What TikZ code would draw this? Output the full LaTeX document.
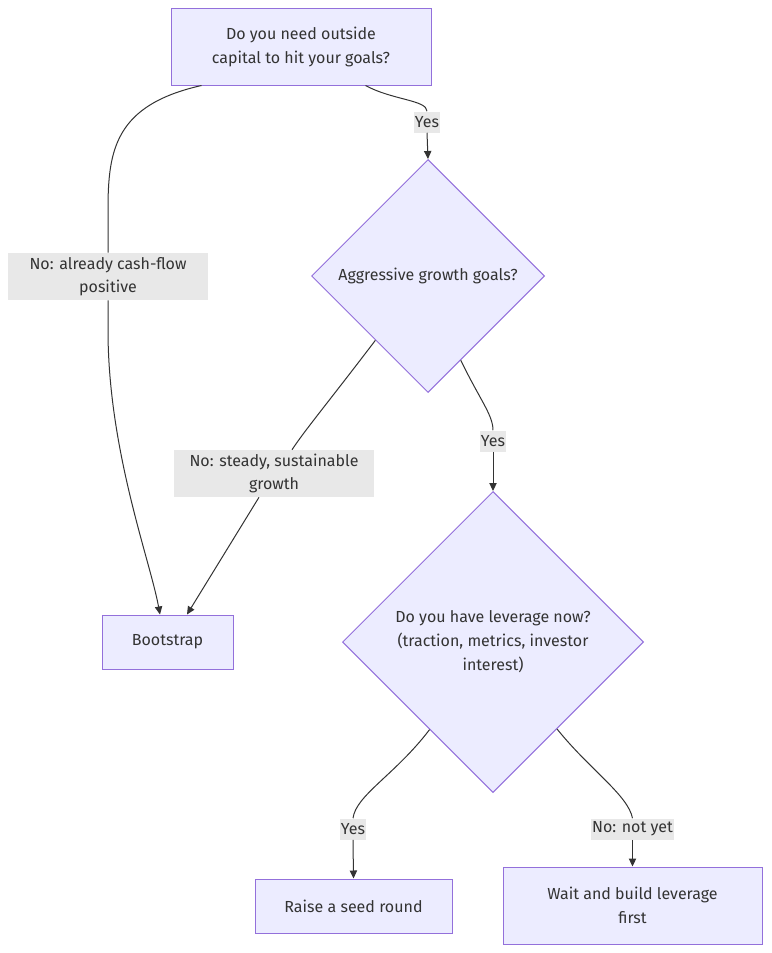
\documentclass[tikz,border=0pt]{standalone}
\usepackage{fontspec}
\setmainfont{Fira Sans}
\usetikzlibrary{arrows.meta,positioning,calc,shapes.geometric}
\definecolor{nodefill}{HTML}{ECECFF}
\definecolor{nodeline}{HTML}{9370DB}
\definecolor{lblfill}{HTML}{E8E8E8}
\definecolor{ink}{HTML}{333333}

\begin{document}
\begin{tikzpicture}[x=0.75pt, y=-0.75pt,
  box/.style={draw=nodeline, fill=nodefill, line width=0.75pt, align=center, text=ink, font=\fontsize{12}{18}\selectfont, inner sep=0pt},
  decision/.style={box, diamond, aspect=1},
  lbl/.style={fill=lblfill, text=ink, align=center, font=\fontsize{12}{17.5}\selectfont, inner xsep=1pt, inner ysep=0pt, minimum height=15.75pt},
  arr/.style={-{Triangle[length=6pt,width=5.5pt]}, ink, line width=0.75pt},
  link/.style={ink, line width=0.75pt}
]
  \useasboundingbox (0,0) rectangle (771,953);

  % questions and outcomes
  \node[box, minimum width=195pt, minimum height=57.75pt] (capital) at (301,46.5) {Do you need outside\\capital to hit your goals?};
  \node[decision, minimum width=174.75pt, minimum height=174.75pt] (growth) at (428,276) {Aggressive growth goals?};
  \node[decision, minimum width=225.75pt, minimum height=225.75pt] (leverage) at (493,642) {Do you have leverage now?\\(traction, metrics, investor\\interest)};
  \node[box, minimum width=98.25pt, minimum height=40.5pt] (boot) at (167.5,642) {Bootstrap};
  \node[box, minimum width=147.75pt, minimum height=40.5pt] (seed) at (353.5,906) {Raise a seed round};
  \node[box, minimum width=194.25pt, minimum height=57.75pt] (wait) at (632.5,905.5) {Wait and build leverage\\first};

  % edge labels
  \node[lbl, minimum width=150pt, minimum height=35.25pt] (cashflow) at (108,276.5) {No: already cash-flow\\positive};
  \node[lbl] (yescap) at (427,122) {Yes};
  \node[lbl, minimum width=150pt, minimum height=35.25pt] (steady) at (274,473.5) {No: steady, sustainable\\growth};
  \node[lbl] (yesgrow) at (493,441) {Yes};
  \node[lbl] (yeslev) at (353,829) {Yes};
  \node[lbl] (notyet) at (632.5,829) {No: not yet};

  % connectors
  \draw[link] ($(capital.south west)+(31,0)$) .. controls (115,105) and (108,150) .. (108,210) -- (cashflow.north);
  \draw[arr] (cashflow.south) -- (108,330) .. controls (108,450) and (150,560) .. ($(boot.north)+(-7.5,0)$);

  \draw[link] ($(capital.south east)+(-66,0)$) .. controls (392,100) and (427,100) .. (yescap.north);
  \draw[arr] (yescap.south) -- (growth.north);

  \draw[link] ($(growth.west)!0.55!(growth.south)$) .. controls (330,400) and (305,430) .. ($(steady.north)+(18,0)$);
  \draw[arr] ($(steady.south)+(-15,0)$) -- ($(boot.north)+(19.5,0)$);

  \draw[link] ($(growth.east)!0.72!(growth.south)$) .. controls (480,400) and (493,415) .. (yesgrow.north);
  \draw[arr] (yesgrow.south) -- (leverage.north);

  \draw[link] ($(leverage.west)!0.58!(leverage.south)$) .. controls (395,775) and (356,795) .. (yeslev.north);
  \draw[arr] (yeslev.south) -- (seed.north);

  \draw[link] ($(leverage.east)!0.576!(leverage.south)$) .. controls (590,770) and (628,795) .. (notyet.north);
  \draw[arr] (notyet.south) -- (wait.north);
\end{tikzpicture}
\end{document}
